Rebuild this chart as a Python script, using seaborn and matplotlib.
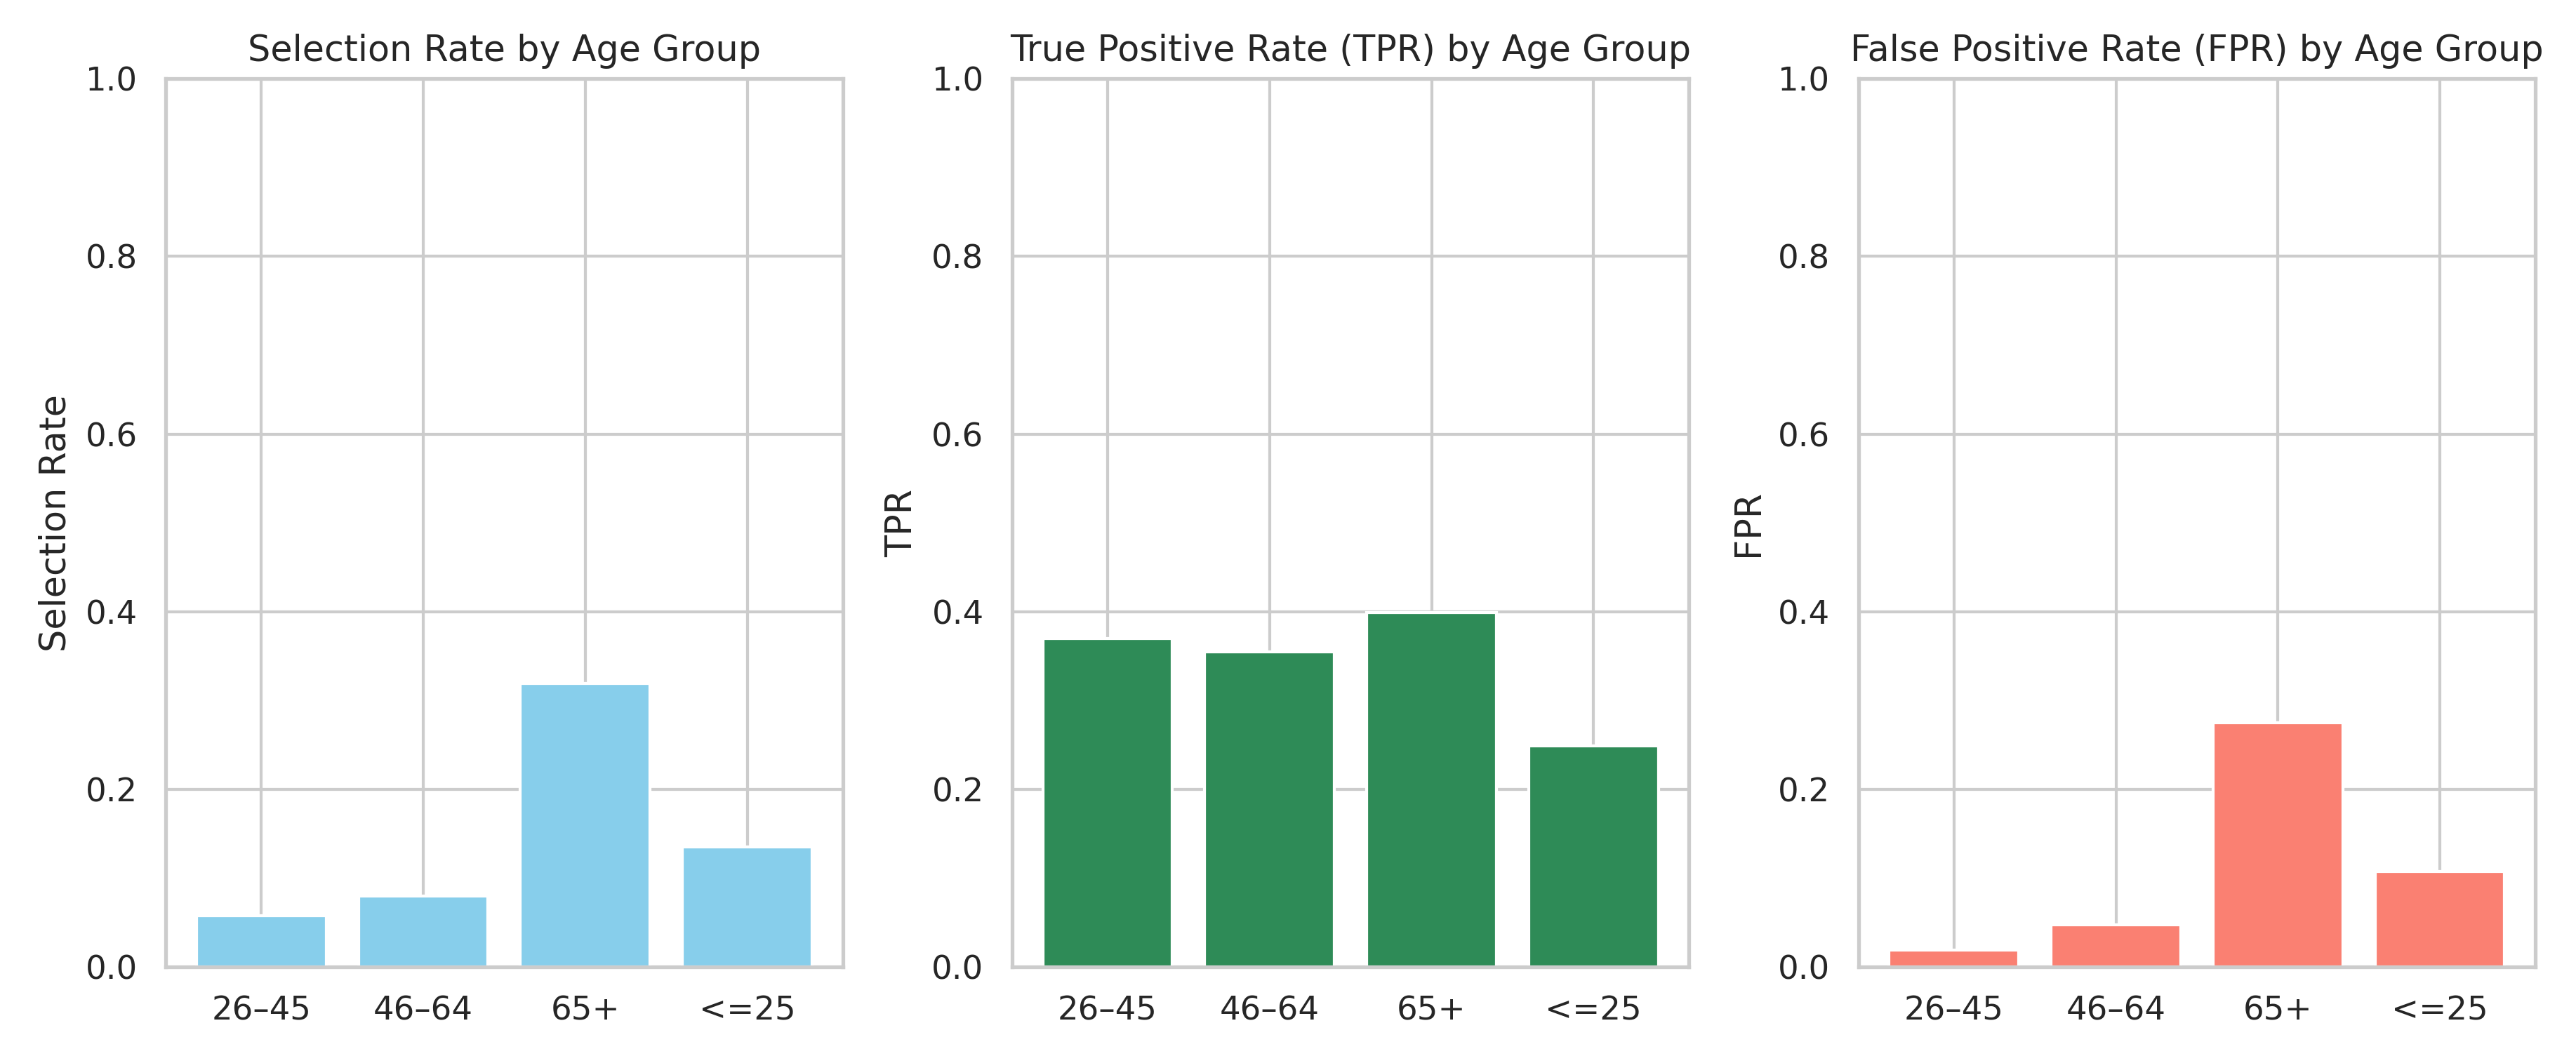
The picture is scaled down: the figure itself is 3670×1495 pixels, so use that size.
import pandas as pd
import seaborn as sns
import matplotlib.pyplot as plt

# age groups and the three fairness metrics
groups = ['26–45', '46–64', '65+', '<=25']
selection_rate = [0.058, 0.080, 0.319, 0.135]
tpr = [0.370, 0.355, 0.399, 0.249]
fpr = [0.019, 0.048, 0.275, 0.108]

titles = ['Selection Rate by Age Group',
          'True Positive Rate (TPR) by Age Group',
          'False Positive Rate (FPR) by Age Group']
ylabels = ['Selection Rate', 'TPR', 'FPR']
colors = ['skyblue', 'seagreen', 'salmon']

sns.set_theme(style='whitegrid')

fig, axes = plt.subplots(1, 3, figsize=(12.036, 4.902))
fig.subplots_adjust(left=0.0643, right=0.984, top=0.925, bottom=0.078, wspace=0.25)

for ax, vals, title, ylab, col in zip(axes, [selection_rate, tpr, fpr], titles, ylabels, colors):
    df = pd.DataFrame({'group': groups, 'value': vals})
    sns.barplot(data=df, x='group', y='value', color=col, saturation=1, width=0.8, ax=ax)
    ax.set_title(title)
    ax.set_ylabel(ylab)
    ax.set_xlabel('')
    ax.set_ylim(0, 1)
    ax.set_xlim(-0.59, 3.59)
    ax.grid(True, axis='x')

fig.savefig('out.png', dpi=305)
